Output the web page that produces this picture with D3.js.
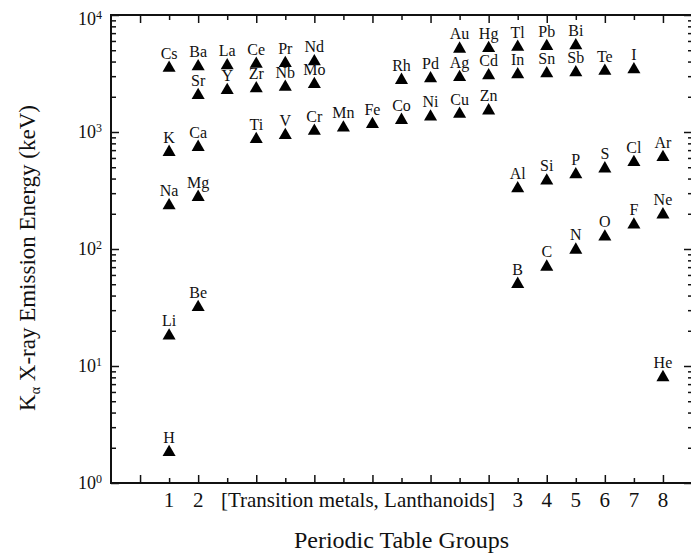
<!DOCTYPE html>
<html>
<head>
<meta charset="utf-8">
<script src="https://cdn.jsdelivr.net/npm/d3@7"></script>
<style>
  html, body { margin: 0; padding: 0; background: #fff; }
  svg text { font-family: "Liberation Serif", "Times New Roman", serif; fill: #111; }
</style>
</head>
<body>
<div id="app"></div>
<script>
// element symbols, their column on the x axis and K-alpha energy (keV)
const symbols = ["H","Li","Na","K","Cs", "Be","Mg","Ca","Sr","Ba", "La","Y", "Ce","Zr","Ti",
  "Pr","Nb","V", "Nd","Mo","Cr", "Mn", "Fe", "Rh","Co", "Pd","Ni", "Au","Ag","Cu", "Hg","Cd","Zn",
  "Tl","In","Al","B", "Pb","Sn","Si","C", "Bi","Sb","P","N", "Te","S","O", "I","Cl","F", "Ar","Ne","He"];
const slots = [2,2,2,2,2, 3,3,3,3,3, 4,4, 5,5,5, 6,6,6, 7,7,7, 8, 9, 10,10, 11,11, 12,12,12, 13,13,13,
  14,14,14,14, 15,15,15,15, 16,16,16,16, 17,17,17, 18,18,18, 19,19,19];
const energies = [1.9,18.8,244,698,3660, 33,288,770,2140,3760, 3840,2360, 3950,2440,900,
  4020,2520,975, 4150,2660,1060, 1130, 1210, 2880,1310, 2970,1400, 5330,3050,1480, 5400,3150,1580,
  5520,3220,341,52, 5615,3280,397,73, 5690,3345,449,102, 3450,505,132, 3550,573,167, 632,204,8.3];

const groupTicks = [2,3,14,15,16,17,18,19];
const groupLabels = ["1","2","3","4","5","6","7","8"];
const yDecades = [1,10,100,1000,10000];

let width = 691, height = 554;
let mLeft = 111, mRight = 692, mTop = 15, mBottom = 483;

let svg = d3.select('#app').append('svg').attr('width', width).attr('height', height);

let x = d3.scaleLinear().domain([0, 20]).range([mLeft, mRight]);
let y = d3.scaleLog().domain([1, 1e4]).range([mBottom, mTop]);

let allSlots = d3.range(1, 20);
let majorX = allSlots.filter(k => k % 2 === 1);
let minorX = allSlots.filter(k => k % 2 === 0);
let minorY = [];
yDecades.slice(0, -1).forEach(d => { for (let m = 2; m <= 9; m++) minorY.push(d * m); });

function styleAxis(g) {
    g.select('.domain').remove();
    g.selectAll('line').attr('stroke', '#111').attr('stroke-width', 1.5);
    g.selectAll('text').remove();
}

// ticks point inward on all four sides
svg.append('g').attr('transform', `translate(0,${mBottom})`)
    .call(d3.axisBottom(x).tickValues(majorX).tickSize(-8)).call(styleAxis);
svg.append('g').attr('transform', `translate(0,${mBottom})`)
    .call(d3.axisBottom(x).tickValues(minorX).tickSize(-5)).call(styleAxis);
svg.append('g').attr('transform', `translate(0,${mTop})`)
    .call(d3.axisTop(x).tickValues(majorX).tickSize(-8)).call(styleAxis);
svg.append('g').attr('transform', `translate(0,${mTop})`)
    .call(d3.axisTop(x).tickValues(minorX).tickSize(-5)).call(styleAxis);
svg.append('g').attr('transform', `translate(${mLeft},0)`)
    .call(d3.axisLeft(y).tickValues(yDecades).tickSize(-8)).call(styleAxis);
svg.append('g').attr('transform', `translate(${mLeft},0)`)
    .call(d3.axisLeft(y).tickValues(minorY).tickSize(-5)).call(styleAxis);
svg.append('g').attr('transform', `translate(${mRight},0)`)
    .call(d3.axisRight(y).tickValues(yDecades).tickSize(-8)).call(styleAxis);
svg.append('g').attr('transform', `translate(${mRight},0)`)
    .call(d3.axisRight(y).tickValues(minorY).tickSize(-4)).call(styleAxis);

// frame
svg.append('rect')
    .attr('x', mLeft).attr('y', mTop)
    .attr('width', mRight - mLeft).attr('height', mBottom - mTop)
    .attr('fill', 'none').attr('stroke', '#111').attr('stroke-width', 2);

// y tick labels 10^n
let ylab = svg.selectAll('.ylab').data(yDecades).enter().append('text')
    .classed('ylab', true)
    .attr('x', 102)
    .attr('y', d => y(d) + (d === 1e4 ? 10 : 6))
    .attr('text-anchor', 'end')
    .style('font-size', '18px');
ylab.append('tspan').text('10');
ylab.append('tspan').attr('dy', -6).style('font-size', '12px').text(d => Math.round(Math.log10(d)));

// x group labels
svg.selectAll('.xlab').data(groupTicks).enter().append('text')
    .classed('xlab', true)
    .attr('x', d => x(d)).attr('y', 507)
    .attr('text-anchor', 'middle')
    .style('font-size', '21px')
    .text((d, i) => groupLabels[i]);

svg.append('text')
    .attr('x', x(8.5)).attr('y', 507)
    .attr('text-anchor', 'middle')
    .style('font-size', '21px')
    .text('[Transition metals, Lanthanoids]');

// axis titles
svg.append('text')
    .attr('x', (mLeft + mRight) / 2).attr('y', 548)
    .attr('text-anchor', 'middle')
    .style('font-size', '24px')
    .text('Periodic Table Groups');

let ytitle = svg.append('text')
    .attr('transform', `translate(35,258) rotate(-90)`)
    .attr('text-anchor', 'middle')
    .style('font-size', '23px');
ytitle.append('tspan').text('K');
ytitle.append('tspan').attr('dy', 5).style('font-size', '14px').text('α');
ytitle.append('tspan').attr('dy', -5).text(' X-ray Emission Energy (keV)');

// markers
let points = symbols.map((s, i) => ({ name: s, slot: slots[i], value: energies[i] }));
let triSize = 74;
let triR = Math.sqrt(triSize / (3 * Math.sqrt(3)));
let tri = d3.symbol().type(d3.symbolTriangle).size(triSize);

svg.selectAll('.pt').data(points).enter().append('path')
    .classed('pt', true)
    .attr('d', tri)
    .attr('fill', '#000')
    .attr('transform', d => `translate(${x(d.slot)},${y(d.value) + triR / 2})`);

svg.selectAll('.pt-text').data(points).enter().append('text')
    .classed('pt-text', true)
    .attr('x', d => x(d.slot))
    .attr('y', d => y(d.value) - 7.5)
    .attr('text-anchor', 'middle')
    .style('font-size', '16px')
    .text(d => d.name);
</script>
</body>
</html>
